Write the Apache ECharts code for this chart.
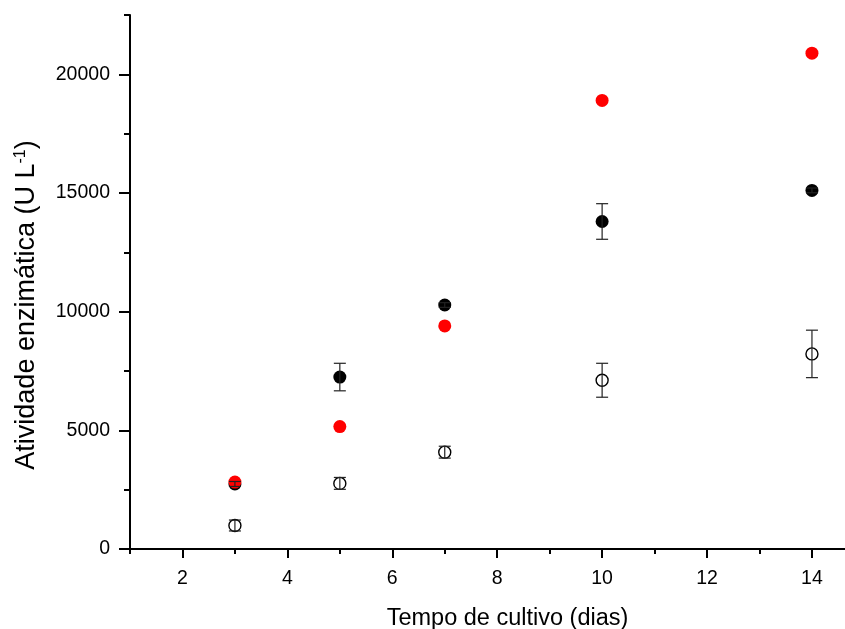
<!DOCTYPE html>
<html>
<head>
<meta charset="utf-8">
<script src="https://cdn.jsdelivr.net/npm/echarts@6/dist/echarts.min.js"></script>
<style>
  html, body { margin: 0; padding: 0; background: #fff; overflow: hidden; }
  #chart { width: 845px; height: 629px; }
</style>
</head>
<body>
<div id="chart"></div>
<script>
// Culture time (days)
const days = [3, 5, 7, 10, 14];

// Enzyme activity (U/L): filled black, filled red, open circles
const blackMean = [2740, 7245, 10280, 13800, 15110];
const blackErr  = [105, 580, 100, 750, 100];
const redMean   = [2820, 5160, 9400, 18900, 20890];
const openMean  = [990, 2765, 4080, 7110, 8220];
const openErr   = [230, 250, 250, 715, 1000];

// Axis ticks
const xMajor = [2, 4, 6, 8, 10, 12, 14];
const xMinor = [1, 3, 5, 7, 9, 11, 13];
const yMajor = [0, 5000, 10000, 15000, 20000];
const yMinor = [2500, 7500, 12500, 17500, 22500];

const FONT = '"Liberation Sans", Arial, sans-serif';

const pts = (ys) => days.map((d, i) => [d, ys[i]]);
const errs = (ys, es) => days.map((d, i) => [d, ys[i] - es[i], ys[i] + es[i]]);

function errorBarItem(params, api) {
  const x = api.value(0);
  const lo = api.coord([x, api.value(1)]);
  const hi = api.coord([x, api.value(2)]);
  const half = 6;
  const style = { stroke: '#222', lineWidth: 1.2, fill: null };
  return {
    type: 'group',
    children: [
      { type: 'line', shape: { x1: lo[0], y1: lo[1], x2: hi[0], y2: hi[1] }, style },
      { type: 'line', shape: { x1: lo[0] - half, y1: lo[1], x2: lo[0] + half, y2: lo[1] }, style },
      { type: 'line', shape: { x1: hi[0] - half, y1: hi[1], x2: hi[0] + half, y2: hi[1] }, style }
    ]
  };
}

const axisLine = { show: true, lineStyle: { color: '#000', width: 2 } };
const plain = (v) => String(v);

const chart = echarts.init(document.getElementById('chart'), null, { renderer: 'canvas' });
chart.setOption({
  animation: false,
  backgroundColor: '#fff',
  grid: { left: 130, right: 0, top: 15, bottom: 80, containLabel: false, outerBoundsMode: 'none' },
  xAxis: [
    {
      type: 'value', min: 1, max: 14.63,
      axisLine,
      splitLine: { show: false },
      axisTick: { show: true, length: 9, customValues: xMajor, lineStyle: { color: '#000', width: 2 } },
      axisLabel: { customValues: xMajor, formatter: plain, fontSize: 19.5, color: '#000', fontFamily: FONT, margin: 20 },
      name: 'Tempo de cultivo (dias)', nameLocation: 'middle', nameGap: 58,
      nameTextStyle: { fontSize: 23.5, color: '#000', fontFamily: FONT, padding: [0, 0, 0, 40] }
    },
    {
      type: 'value', min: 1, max: 14.63, position: 'bottom',
      axisLine: { show: false },
      splitLine: { show: false },
      axisTick: { show: true, length: 5, customValues: xMinor, lineStyle: { color: '#000', width: 2 } },
      axisLabel: { show: false }
    }
  ],
  yAxis: [
    {
      type: 'value', min: 0, max: 22500,
      axisLine,
      splitLine: { show: false },
      axisTick: { show: true, length: 11, customValues: yMajor, lineStyle: { color: '#000', width: 2 } },
      axisLabel: { customValues: yMajor, formatter: plain, fontSize: 19.5, color: '#000', fontFamily: FONT, margin: 20 }
    },
    {
      type: 'value', min: 0, max: 22500, position: 'left',
      axisLine: { show: false },
      splitLine: { show: false },
      axisTick: { show: true, length: 6, customValues: yMinor, lineStyle: { color: '#000', width: 2 } },
      axisLabel: { show: false }
    }
  ],
  graphic: [{
    type: 'text',
    x: 27, y: 305,
    rotation: Math.PI / 2,
    style: {
      text: '{a|Atividade enzimática (U L}{s|-1}{a|)}',
      align: 'center',
      verticalAlign: 'middle',
      rich: {
        a: { fontSize: 27, fontFamily: FONT, fill: '#000', color: '#000' },
        s: { fontSize: 16, fontFamily: FONT, fill: '#000', color: '#000', padding: [0, 0, 13, 0] }
      }
    }
  }],
  series: [
    {
      type: 'scatter', data: pts(openMean), symbol: 'circle', symbolSize: 12, z: 2,
      itemStyle: { color: '#fff', borderColor: '#000', borderWidth: 1.4, opacity: 1 }
    },
    {
      type: 'scatter', data: pts(blackMean), symbol: 'circle', symbolSize: 13, z: 3,
      itemStyle: { color: '#000', opacity: 1 }
    },
    {
      type: 'scatter', data: pts(redMean), symbol: 'circle', symbolSize: 13, z: 4,
      itemStyle: { color: '#ff0000', opacity: 1 }
    },
    {
      type: 'custom', data: errs(openMean, openErr), renderItem: errorBarItem, z: 5,
      encode: { x: 0, y: [1, 2] }
    },
    {
      type: 'custom', data: errs(blackMean, blackErr), renderItem: errorBarItem, z: 5,
      encode: { x: 0, y: [1, 2] }
    }
  ]
});
</script>
</body>
</html>
